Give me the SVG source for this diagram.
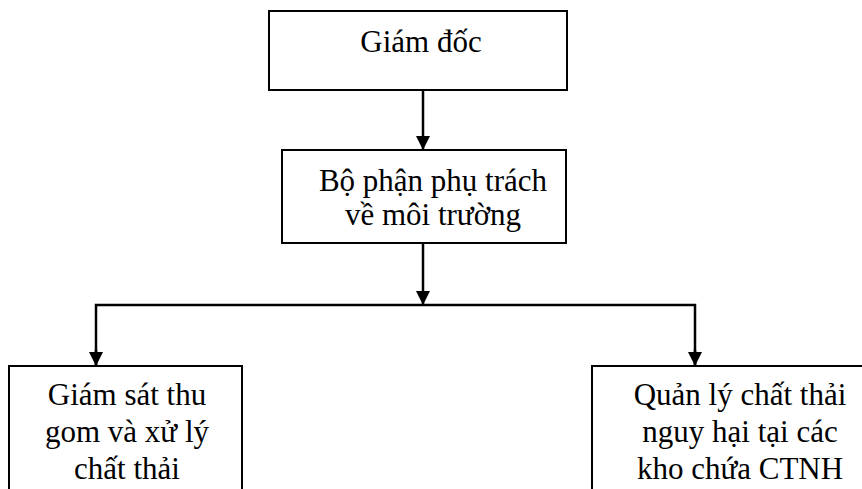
<svg xmlns="http://www.w3.org/2000/svg" width="862" height="489" viewBox="0 0 862 489">
<style>
.box{fill:#fff;stroke:#000;stroke-width:2}
.t{font-family:"Liberation Serif","Times New Roman",serif;font-size:31px;fill:#000;text-anchor:middle}
.c{fill:none;stroke:#000;stroke-width:2.5}
</style>
<defs>
<marker id="ah" viewBox="0 0 14 14" refX="14" refY="7" markerWidth="14" markerHeight="14" markerUnits="userSpaceOnUse" orient="auto">
<path d="M0,0 L14,7 L0,14 Z" fill="#000"/>
</marker>
</defs>
<rect width="862" height="489" fill="#fff"/>
<g id="connectors">
<line class="c" x1="423" y1="90" x2="423" y2="150" marker-end="url(#ah)"/>
<line class="c" x1="423" y1="243" x2="423" y2="305" marker-end="url(#ah)"/>
<polyline class="c" points="96,366 96,305 695,305 695,366" stroke-linejoin="miter"/>
<line class="c" x1="96" y1="350" x2="96" y2="366" marker-end="url(#ah)"/>
<line class="c" x1="695" y1="350" x2="695" y2="366" marker-end="url(#ah)"/>
</g>
<g id="giam-doc">
<rect class="box" x="269" y="11" width="298" height="79"/>
<text class="t" x="421" y="52">Giám đốc</text>
</g>
<g id="bo-phan">
<rect class="box" x="282" y="150" width="284" height="93"/>
<text class="t" x="433" y="191">Bộ phận phụ trách</text>
<text class="t" x="433" y="225">về môi trường</text>
</g>
<g id="giam-sat">
<rect class="box" x="9" y="366" width="233" height="140"/>
<text class="t" x="127" y="405">Giám sát thu</text>
<text class="t" x="127" y="442">gom và xử lý</text>
<text class="t" x="127" y="479">chất thải</text>
</g>
<g id="quan-ly">
<rect class="box" x="592" y="366" width="296" height="140"/>
<text class="t" x="740" y="405">Quản lý chất thải</text>
<text class="t" x="740" y="442">nguy hại tại các</text>
<text class="t" x="740" y="479">kho chứa CTNH</text>
</g>
</svg>
